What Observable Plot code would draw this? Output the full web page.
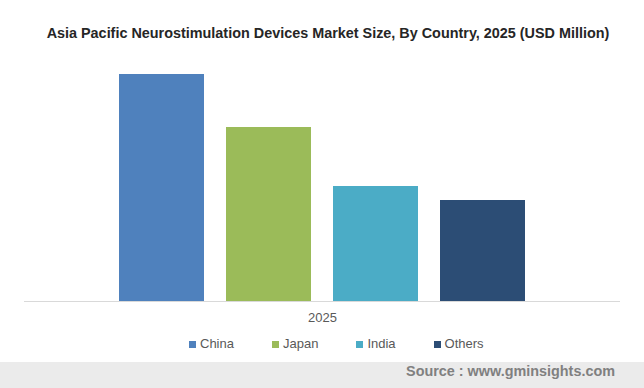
<!DOCTYPE html>
<html>
<head>
<meta charset="utf-8">
<script src="https://cdn.jsdelivr.net/npm/d3@7"></script>
<script src="https://cdn.jsdelivr.net/npm/@observablehq/plot@0.6"></script>
<style>
  html, body { margin: 0; padding: 0; background: #fff; }
  body { width: 644px; height: 388px; overflow: hidden; font-family: "Liberation Sans", Arial, sans-serif; }
  #title { height: 51px; box-sizing: border-box; padding-top: 24px; padding-left: 12px; text-align: center;
           font-size: 14.4px; font-weight: bold; line-height: 18px; color: #262626; white-space: nowrap; }
  #chart svg { display: block; }
  #legend { height: 32px; box-sizing: border-box; padding-top: 7px; padding-left: 189px; display: flex;
            align-items: flex-start; font-size: 13px; line-height: 14px; color: #595959; }
  #legend .item { display: flex; align-items: center; margin-right: 38px; height: 14px; }
  #legend .sw { width: 7px; height: 7px; margin-right: 4px; }
  #source { height: 26px; background: #ebebeb; text-align: right; padding-right: 29px; box-sizing: border-box;
            font-size: 14.4px; font-weight: bold; line-height: 18px; color: #808080; }
</style>
</head>
<body>
<div id="title"></div>
<div id="chart"></div>
<div id="legend"></div>
<div id="source"></div>
<script>
const titleText = "Asia Pacific Neurostimulation Devices Market Size, By Country, 2025 (USD Million)";
const sourceText = "Source : www.gminsights.com";
const years = ["2025"];
const countries = ["China", "Japan", "India", "Others"];
const values2025 = [227, 174, 115, 101];
const colors = ["#4f81bd", "#9bbb59", "#4bacc6", "#2c4d75"];

document.getElementById("title").textContent = titleText;
document.getElementById("source").textContent = sourceText;

const data = countries.map((c, i) => ({year: years[0], country: c, value: values2025[i]}));

const chart = Plot.plot({
  width: 644,
  height: 279,
  marginTop: 0,
  marginBottom: 29,
  marginLeft: 24,
  marginRight: 24,
  style: {fontFamily: "'Liberation Sans', Arial, sans-serif", fontSize: "13px", background: "transparent"},
  fx: {domain: years, padding: 0, label: null},
  x: {domain: countries, paddingInner: 0.21, paddingOuter: 0.868, axis: null},
  y: {domain: [0, 250], axis: null},
  color: {domain: countries, range: colors},
  marks: [
    Plot.barY(data, {fx: "year", x: "country", y: "value", fill: "country"}),
    Plot.ruleY([0], {stroke: "#d9d9d9", strokeWidth: 1}),
    Plot.axisFx({anchor: "bottom", tickSize: 0, tickPadding: 11, fontSize: 13, fill: "#595959", label: null})
  ]
});
document.getElementById("chart").appendChild(chart);

const legend = document.getElementById("legend");
countries.forEach((c, i) => {
  const item = document.createElement("div");
  item.className = "item";
  const sw = document.createElement("span");
  sw.className = "sw";
  sw.style.background = colors[i];
  const t = document.createElement("span");
  t.textContent = c;
  item.appendChild(sw);
  item.appendChild(t);
  legend.appendChild(item);
});
</script>
</body>
</html>
